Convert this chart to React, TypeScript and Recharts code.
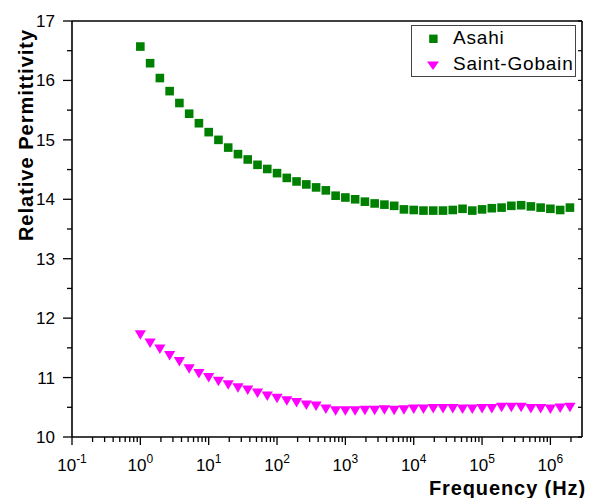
import React from "react";
import { Scatter, ScatterChart, XAxis, YAxis } from "recharts";

const FONT = "'Liberation Sans', Arial, Helvetica, sans-serif";

// measurement frequencies (Hz), seven points per decade
const frequency = [
  1, 1.3895, 1.9307, 2.6827, 3.7276, 5.1795, 7.1969,
  10, 13.895, 19.307, 26.827, 37.276, 51.795, 71.969,
  100, 138.95, 193.07, 268.27, 372.76, 517.95, 719.69,
  1000, 1389.5, 1930.7, 2682.7, 3727.6, 5179.5, 7196.9,
  10000, 13895, 19307, 26827, 37276, 51795, 71969,
  100000, 138950, 193070, 268270, 372760, 517950, 719690,
  1000000, 1389500, 1930700,
];

const asahi = [
  16.57, 16.29, 16.04, 15.82, 15.62, 15.44, 15.28,
  15.13, 15.0, 14.87, 14.76, 14.67, 14.58, 14.51,
  14.44, 14.36, 14.3, 14.25, 14.2, 14.15, 14.06,
  14.03, 14.0, 13.96, 13.93, 13.91, 13.89, 13.83,
  13.82, 13.81, 13.81, 13.81, 13.82, 13.84, 13.81,
  13.83, 13.85, 13.86, 13.89, 13.9, 13.88, 13.86,
  13.84, 13.82, 13.86,
];

const saintGobain = [
  11.72, 11.58, 11.48, 11.37, 11.27, 11.15, 11.07,
  11.0, 10.94, 10.88, 10.83, 10.79, 10.74, 10.69,
  10.65, 10.61, 10.58, 10.54, 10.52, 10.47, 10.44,
  10.44, 10.44, 10.45, 10.45, 10.46, 10.45, 10.46,
  10.47, 10.47, 10.48, 10.48, 10.48, 10.47, 10.47,
  10.48, 10.48, 10.5, 10.5, 10.5, 10.48, 10.48,
  10.47, 10.49, 10.5,
];

const xMajorTicks = [0.1, 1, 10, 100, 1000, 10000, 100000, 1000000];
const xMinorTicks = xMajorTicks.flatMap((d) =>
  [2, 3, 4, 5, 6, 7, 8, 9].map((m) => m * d)
).filter((v) => v <= 2.9e6);
const xTicks = [...xMajorTicks, ...xMinorTicks].sort((a, b) => a - b);
const yTicks = [10, 10.5, 11, 11.5, 12, 12.5, 13, 13.5, 14, 14.5, 15, 15.5, 16, 16.5, 17];

const X_DOMAIN: [number, number] = [0.1, 2.9e6];
const Y_DOMAIN: [number, number] = [10, 17];

const asahiData = frequency.map((f, i) => ({ f, v: asahi[i] }));
const saintGobainData = frequency.map((f, i) => ({ f, v: saintGobain[i] }));

const isMajor = (v: number) => xMajorTicks.some((m) => Math.abs(m - v) / m < 1e-9);

function BottomTick(props: any) {
  const { x, y, payload } = props;
  const major = isMajor(payload.value);
  const exp = Math.round(Math.log10(payload.value));
  return (
    <g>
      <line x1={x} x2={x} y1={y} y2={y + (major ? 8 : 5)} stroke="#000" strokeWidth={1.3} />
      {major && (
        <text x={x} y={y + 34} textAnchor="middle" fontSize={17} fontFamily={FONT} fill="#000">
          10
          <tspan fontSize={12} dy={-8}>
            {exp}
          </tspan>
        </text>
      )}
    </g>
  );
}

function TopTick(props: any) {
  const { x, y } = props;
  return <line x1={x} x2={x} y1={y} y2={y - 2} stroke="#aaa" strokeWidth={1} />;
}

function LeftTick(props: any) {
  const { x, y, payload } = props;
  const major = Number.isInteger(payload.value);
  return (
    <g>
      <line x1={x} x2={x - (major ? 9 : 5)} y1={y} y2={y} stroke="#000" strokeWidth={1.3} />
      {major && (
        <text x={x - 17} y={y + 6} textAnchor="end" fontSize={17} fontFamily={FONT} fill="#000">
          {payload.value}
        </text>
      )}
    </g>
  );
}

function RightTick(props: any) {
  const { x, y } = props;
  return <line x1={x} x2={x - 4} y1={y} y2={y} stroke="#000" strokeWidth={1.2} />;
}

const Square = (props: any) => {
  const { cx, cy } = props;
  return <rect x={cx - 4.3} y={cy - 4.3} width={8.6} height={8.6} fill="#008000" />;
};

const DownTriangle = (props: any) => {
  const { cx, cy } = props;
  return (
    <polygon
      points={`${cx - 5.6},${cy - 4.5} ${cx + 5.6},${cy - 4.5} ${cx},${cy + 5}`}
      fill="#ff00ff"
    />
  );
};

const axisLine = { stroke: "#000", strokeWidth: 1.6 };

export default function App() {
  return (
    <div style={{ position: "absolute", left: 0, top: 0, width: 589, height: 498, background: "#fff" }}>
      <ScatterChart
        width={589}
        height={498}
        margin={{ top: 20, right: 6, bottom: 60, left: 71 }}
      >
        <XAxis
          xAxisId="main"
          dataKey="f"
          type="number"
          scale="log"
          domain={X_DOMAIN}
          allowDataOverflow
          ticks={xTicks}
          interval={0}
          height={1}
          tickSize={0}
          tickMargin={0}
          tickLine={false}
          axisLine={axisLine}
          tick={<BottomTick />}
        />
        <XAxis
          xAxisId="top"
          orientation="top"
          type="number"
          scale="log"
          domain={X_DOMAIN}
          allowDataOverflow
          ticks={xTicks}
          interval={0}
          height={1}
          tickSize={0}
          tickMargin={0}
          tickLine={false}
          axisLine={axisLine}
          tick={<TopTick />}
        />
        <YAxis
          yAxisId="main"
          dataKey="v"
          type="number"
          domain={Y_DOMAIN}
          allowDataOverflow
          ticks={yTicks}
          interval={0}
          width={1}
          tickSize={0}
          tickMargin={0}
          tickLine={false}
          axisLine={axisLine}
          tick={<LeftTick />}
        />
        <YAxis
          yAxisId="right"
          orientation="right"
          type="number"
          domain={Y_DOMAIN}
          allowDataOverflow
          ticks={yTicks}
          interval={0}
          width={1}
          tickSize={0}
          tickMargin={0}
          tickLine={false}
          axisLine={axisLine}
          tick={<RightTick />}
        />
        <Scatter
          name="Asahi"
          data={asahiData}
          xAxisId="main"
          yAxisId="main"
          shape={<Square />}
          isAnimationActive={false}
        />
        <Scatter
          name="Saint-Gobain"
          data={saintGobainData}
          xAxisId="main"
          yAxisId="main"
          shape={<DownTriangle />}
          isAnimationActive={false}
        />
      </ScatterChart>
      <svg
        width={589}
        height={498}
        style={{ position: "absolute", left: 0, top: 0, pointerEvents: "none" }}
      >
        <text
          transform="translate(33,135) rotate(-90)"
          textAnchor="middle"
          fontSize={20}
          fontWeight="bold"
          letterSpacing={1}
          fontFamily={FONT}
        >
          Relative Permittivity
        </text>
        <text
          x={586}
          y={495}
          textAnchor="end"
          fontSize={20}
          fontWeight="bold"
          letterSpacing={0.9}
          fontFamily={FONT}
        >
          Frequency (Hz)
        </text>
        <rect x={411.5} y={25.5} width={164} height={51} fill="#fff" stroke="#444" strokeWidth={1} />
        <rect x={429.2} y={34.6} width={8.4} height={8.4} fill="#008000" />
        <polygon points="427,61.5 439,61.5 433,70" fill="#ff00ff" />
        <text x={453} y={43.5} fontSize={19} letterSpacing={0.8} fontFamily={FONT}>
          Asahi
        </text>
        <text x={453} y={70} fontSize={19} letterSpacing={0.8} fontFamily={FONT}>
          Saint-Gobain
        </text>
      </svg>
    </div>
  );
}
